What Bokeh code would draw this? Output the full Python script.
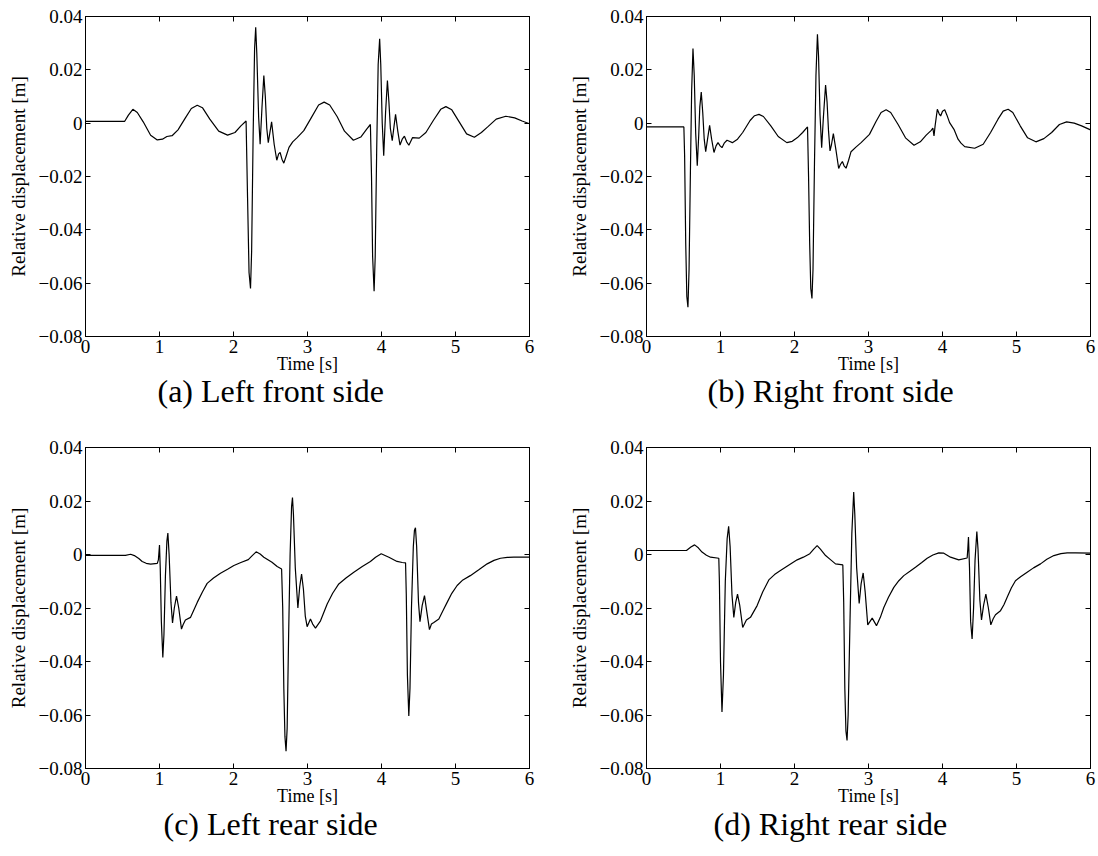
from bokeh.plotting import figure
from bokeh.layouts import gridplot
from bokeh.models import LinearAxis, FixedTicker, Range1d, Title, CustomJSTickFormatter
from bokeh.embed import file_html
from bokeh.resources import INLINE

FONT = "Liberation Serif"

x_ticks = [0, 1, 2, 3, 4, 5, 6]
x_tick_labels = ["0", "1", "2", "3", "4", "5", "6"]
y_ticks = [-0.08, -0.06, -0.04, -0.02, 0, 0.02, 0.04]
y_tick_labels = ["\u22120.08", "\u22120.06", "\u22120.04", "\u22120.02", "0", "0.02", "0.04"]

x_label = "Time [s]"
y_label = "Relative displacement [m]"
captions = ["(a) Left front side", "(b) Right front side",
            "(c) Left rear side", "(d) Right rear side"]

# (a) Left front side
t_a = [0.00, 0.53, 0.58, 0.64, 0.70, 0.78, 0.88, 0.97, 1.04, 1.10, 1.17, 1.25, 1.35, 1.43,
       1.51, 1.58, 1.68, 1.80, 1.92, 2.02, 2.10, 2.17, 2.19, 2.21, 2.23, 2.245, 2.265, 2.285,
       2.30, 2.315, 2.34, 2.36, 2.385, 2.41, 2.43, 2.45, 2.47, 2.495, 2.515, 2.55, 2.585, 2.61,
       2.63, 2.655, 2.68, 2.71, 2.75, 2.80, 2.86, 2.95, 3.05, 3.15, 3.225, 3.30, 3.40, 3.50,
       3.62, 3.72, 3.80, 3.85, 3.865, 3.88, 3.90, 3.915, 3.935, 3.955, 3.975, 3.99, 4.01, 4.03,
       4.055, 4.08, 4.10, 4.12, 4.145, 4.17, 4.19, 4.22, 4.25, 4.28, 4.31, 4.34, 4.37, 4.42,
       4.51, 4.60, 4.70, 4.80, 4.87, 4.95, 5.05, 5.15, 5.255, 5.35, 5.435, 5.55, 5.68, 5.80,
       5.90, 6.00]
y_a = [0.0007, 0.0007, 0.0030, 0.0052, 0.0040, 0.0005, -0.0045, -0.0063, -0.0060, -0.0050,
       -0.0047, -0.0025, 0.0020, 0.0055, 0.0067, 0.0058, 0.0015, -0.0030, -0.0045, -0.0035,
       -0.0010, 0.0008, -0.028, -0.056, -0.062, -0.048, -0.005, 0.028, 0.036, 0.026, 0.002,
       -0.0079, 0.006, 0.0179, 0.010, -0.002, -0.0073, -0.003, 0.0005, -0.008, -0.0139,
       -0.0115, -0.011, -0.0135, -0.015, -0.0125, -0.0091, -0.0070, -0.0054, -0.0028, 0.0020,
       0.0068, 0.0079, 0.0068, 0.0025, -0.0030, -0.0064, -0.0052, -0.0022, -0.0005, -0.020,
       -0.050, -0.063, -0.050, -0.010, 0.022, 0.0316, 0.022, 0.000, -0.0122, 0.004, 0.016,
       0.008, -0.002, -0.0066, -0.001, 0.0033, -0.003, -0.0082, -0.006, -0.0049, -0.007,
       -0.0083, -0.0054, -0.0056, -0.0035, 0.0010, 0.0052, 0.0062, 0.0050, 0.0005, -0.0040,
       -0.0053, -0.0035, -0.0014, 0.0015, 0.0026, 0.0020, 0.0008, -0.0002]

# (b) Right front side
t_b = [0.00, 0.505, 0.515, 0.53, 0.545, 0.56, 0.575, 0.595, 0.61, 0.628, 0.645, 0.665, 0.686,
       0.705, 0.72, 0.74, 0.76, 0.78, 0.80, 0.825, 0.853, 0.88, 0.912, 0.94, 0.966, 0.995,
       1.02, 1.05, 1.088, 1.12, 1.16, 1.23, 1.30, 1.40, 1.46, 1.52, 1.58, 1.68, 1.78, 1.896,
       1.97, 2.04, 2.11, 2.176, 2.19, 2.205, 2.22, 2.236, 2.25, 2.27, 2.29, 2.31, 2.325, 2.345,
       2.367, 2.39, 2.42, 2.44, 2.46, 2.48, 2.50, 2.525, 2.56, 2.597, 2.62, 2.647, 2.67, 2.697,
       2.73, 2.764, 2.83, 2.90, 3.013, 3.10, 3.17, 3.238, 3.30, 3.40, 3.50, 3.615, 3.70, 3.78,
       3.848, 3.87, 3.885, 3.90, 3.93, 3.955, 3.975, 4.00, 4.03, 4.06, 4.096, 4.155, 4.21,
       4.25, 4.30, 4.435, 4.55, 4.65, 4.75, 4.82, 4.887, 4.95, 5.05, 5.15, 5.262, 5.37, 5.475,
       5.58, 5.677, 5.78, 5.88, 6.00]
y_b = [-0.0014, -0.0014, -0.012, -0.045, -0.065, -0.069, -0.055, -0.015, 0.012, 0.028, 0.018,
       -0.004, -0.016, -0.005, 0.006, 0.0117, 0.004, -0.006, -0.0107, -0.006, -0.0008, -0.006,
       -0.011, -0.0085, -0.0073, -0.0085, -0.0092, -0.0075, -0.0064, -0.0068, -0.0073,
       -0.0060, -0.0035, 0.0010, 0.0028, 0.0033, 0.0025, -0.0010, -0.0050, -0.0073, -0.0068,
       -0.0054, -0.0035, -0.0014, -0.020, -0.045, -0.062, -0.0657, -0.055, -0.015, 0.018,
       0.0333, 0.025, 0.003, -0.0092, 0.002, 0.0143, 0.008, -0.003, -0.0104, -0.008, -0.0039,
       -0.010, -0.017, -0.0155, -0.0144, -0.016, -0.0169, -0.014, -0.0107, -0.0090, -0.0073,
       -0.0042, 0.0005, 0.0040, 0.0050, 0.0040, -0.0005, -0.0055, -0.0083, -0.0070, -0.0045,
       -0.0027, -0.0018, -0.0048, -0.0010, 0.0052, 0.0035, 0.0027, 0.0045, 0.0050, 0.0030,
       0.0002, -0.0023, -0.0060, -0.0075, -0.0088, -0.0094, -0.0079, -0.0035, 0.0015, 0.0045,
       0.0052, 0.0040, -0.0010, -0.0055, -0.0070, -0.0058, -0.0035, -0.0005, 0.0005, 0.0000,
       -0.0010, -0.0025]

# (c) Left rear side
t_c = [0.00, 0.54, 0.61, 0.66, 0.72, 0.766, 0.82, 0.88, 0.97, 0.985, 1.00, 1.01, 1.025, 1.045,
       1.06, 1.08, 1.10, 1.113, 1.13, 1.155, 1.176, 1.20, 1.23, 1.26, 1.297, 1.32, 1.35, 1.42,
       1.51, 1.58, 1.644, 1.73, 1.824, 1.92, 2.005, 2.10, 2.20, 2.25, 2.306, 2.36, 2.41, 2.52,
       2.59, 2.65, 2.665, 2.68, 2.695, 2.71, 2.725, 2.745, 2.765, 2.785, 2.797, 2.81, 2.835,
       2.87, 2.895, 2.92, 2.945, 2.97, 2.995, 3.04, 3.07, 3.108, 3.176, 3.266, 3.34, 3.423,
       3.52, 3.626, 3.74, 3.85, 3.92, 3.996, 4.10, 4.21, 4.28, 4.325, 4.335, 4.35, 4.369,
       4.385, 4.405, 4.43, 4.445, 4.459, 4.475, 4.50, 4.52, 4.55, 4.581, 4.61, 4.648, 4.675,
       4.707, 4.775, 4.83, 4.887, 4.95, 5.022, 5.10, 5.20, 5.31, 5.428, 5.52, 5.608, 5.70,
       5.788, 6.00]
y_c = [-0.0003, -0.0003, 0.0001, -0.0004, -0.0015, -0.0026, -0.0033, -0.0036, -0.0033, -0.002,
       0.0035, -0.005, -0.025, -0.0385, -0.030, -0.008, 0.005, 0.008, 0.000, -0.018, -0.0256,
       -0.020, -0.0156, -0.020, -0.0279, -0.0262, -0.0245, -0.0235, -0.0179, -0.0140, -0.0108,
       -0.0088, -0.0070, -0.0055, -0.0041, -0.0030, -0.0019, -0.0005, 0.0010, 0.0002, -0.0010,
       -0.0029, -0.0045, -0.0054, -0.020, -0.050, -0.068, -0.0735, -0.065, -0.030, 0.000, 0.018,
       0.0213, 0.015, -0.005, -0.020, -0.012, -0.0073, -0.013, -0.023, -0.027, -0.0241, -0.026,
       -0.0275, -0.0248, -0.0185, -0.0145, -0.011, -0.0088, -0.0066, -0.0045, -0.0026, -0.0010,
       0.0003, -0.0010, -0.0026, -0.0030, -0.0031, -0.015, -0.045, -0.0604, -0.050, -0.020,
       0.003, 0.009, 0.010, 0.003, -0.018, -0.0251, -0.019, -0.0154, -0.021, -0.0281, -0.026,
       -0.0254, -0.0241, -0.021, -0.0179, -0.0145, -0.0116, -0.0095, -0.0079, -0.0058, -0.0035,
       -0.0022, -0.0014, -0.0011, -0.0010, -0.0010]

# (d) Right rear side
t_d = [0.00, 0.54, 0.60, 0.65, 0.70, 0.75, 0.81, 0.865, 0.977, 0.985, 1.00, 1.02, 1.04, 1.065,
       1.09, 1.11, 1.13, 1.155, 1.18, 1.205, 1.23, 1.26, 1.30, 1.35, 1.405, 1.495, 1.57, 1.653,
       1.73, 1.81, 1.92, 2.036, 2.12, 2.207, 2.26, 2.306, 2.35, 2.42, 2.49, 2.554, 2.653, 2.665,
       2.68, 2.695, 2.71, 2.725, 2.75, 2.775, 2.80, 2.815, 2.84, 2.874, 2.90, 2.928, 2.955,
       2.99, 3.05, 3.108, 3.16, 3.207, 3.27, 3.342, 3.41, 3.477, 3.56, 3.635, 3.72, 3.793, 3.87,
       3.95, 4.018, 4.108, 4.22, 4.333, 4.342, 4.351, 4.365, 4.38, 4.40, 4.42, 4.44, 4.464,
       4.48, 4.505, 4.527, 4.555, 4.586, 4.62, 4.653, 4.685, 4.716, 4.784, 4.83, 4.874, 4.93,
       4.986, 5.06, 5.144, 5.23, 5.325, 5.41, 5.505, 5.60, 5.685, 5.80, 6.00]
y_d = [0.0015, 0.0015, 0.0028, 0.0036, 0.0025, 0.0009, -0.0003, -0.0010, -0.0014, -0.010,
       -0.040, -0.0589, -0.045, -0.010, 0.006, 0.0105, 0.003, -0.015, -0.0235, -0.018, -0.0148,
       -0.019, -0.0273, -0.0245, -0.0235, -0.0191, -0.0140, -0.0095, -0.0075, -0.0060, -0.0040,
       -0.0020, -0.0010, 0.0003, 0.0020, 0.0033, 0.0020, -0.0004, -0.0020, -0.0035, -0.0039,
       -0.018, -0.050, -0.066, -0.0695, -0.060, -0.025, 0.008, 0.0234, 0.015, -0.005, -0.0183,
       -0.0110, -0.0069, -0.014, -0.0263, -0.0238, -0.0266, -0.0235, -0.0198, -0.0160, -0.0123,
       -0.0098, -0.0079, -0.0063, -0.0048, -0.0030, -0.0014, -0.0002, 0.0006, 0.0005, -0.0010,
       -0.0020, -0.0013, 0.002, 0.0065, -0.005, -0.025, -0.0316, -0.020, -0.002, 0.0086, 0.002,
       -0.017, -0.0245, -0.019, -0.0148, -0.020, -0.0263, -0.024, -0.0225, -0.0210, -0.0188,
       -0.0160, -0.0125, -0.0098, -0.0082, -0.0066, -0.0050, -0.0035, -0.0018, -0.0004, 0.0003,
       0.0006, 0.0006, 0.0005]

series = [(t_a, y_a), (t_b, y_b), (t_c, y_c), (t_d, y_d)]

LOOKUP = """
let best = 0;
for (let i = 0; i < tv.length; i++) {
  if (Math.abs(tv[i] - tick) < Math.abs(tv[best] - tick)) { best = i; }
}
return tl[best];
"""


def style_axis(ax, ticks, labels, show_labels):
    ax.ticker = FixedTicker(ticks=ticks)
    ax.major_tick_in = 5
    ax.major_tick_out = 0
    ax.minor_tick_line_color = None
    ax.axis_line_color = "black"
    ax.axis_line_width = 1
    ax.major_tick_line_color = "black"
    ax.major_tick_line_width = 1
    if show_labels:
        ax.formatter = CustomJSTickFormatter(args=dict(tv=ticks, tl=labels), code=LOOKUP)
        ax.major_label_text_font = FONT
        ax.major_label_text_font_style = "normal"
        ax.major_label_text_font_size = "19px"
        ax.major_label_text_color = "black"
        ax.major_label_standoff = 3
    else:
        ax.formatter = CustomJSTickFormatter(code="return '';")
        ax.major_label_text_font_size = "0px"
        ax.major_label_standoff = 0


# caption left offsets (px from frame left) so that captions sit centred under each subfigure
caption_offsets = [72, 61, 78, 67]
caption_standoffs = [-12, -12, -10, -10]


def make(idx):
    row, col = divmod(idx, 2)
    t, y = series[idx]
    p = figure(width=549, height=428, output_backend="svg", toolbar_location=None,
               x_range=Range1d(0, 6), y_range=Range1d(-0.08, 0.04),
               min_border_left=85 if col == 0 else 97,
               min_border_right=20 if col == 0 else 8,
               min_border_top=16 if row == 0 else 19,
               min_border_bottom=92 if row == 0 else 88)
    p.grid.visible = False
    p.background_fill_color = "white"
    p.border_fill_color = "white"
    p.outline_line_color = "black"
    p.outline_line_width = 1
    p.line(t, y, line_color="black", line_width=1.2)

    style_axis(p.xaxis[0], x_ticks, x_tick_labels, True)
    style_axis(p.yaxis[0], y_ticks, y_tick_labels, True)
    p.xaxis[0].axis_label = x_label
    p.xaxis[0].axis_label_text_font = FONT
    p.xaxis[0].axis_label_text_font_style = "normal"
    p.xaxis[0].axis_label_text_font_size = "18px"
    p.xaxis[0].axis_label_text_color = "black"
    p.xaxis[0].axis_label_standoff = -2
    p.yaxis[0].axis_label = y_label
    p.yaxis[0].axis_label_text_font = FONT
    p.yaxis[0].axis_label_text_font_style = "normal"
    p.yaxis[0].axis_label_text_font_size = "19px"
    p.yaxis[0].axis_label_text_color = "black"
    p.yaxis[0].axis_label_standoff = 7

    top = LinearAxis()
    style_axis(top, x_ticks, x_tick_labels, False)
    p.add_layout(top, "above")
    right = LinearAxis()
    style_axis(right, y_ticks, y_tick_labels, False)
    p.add_layout(right, "right")

    cap = Title(text=captions[idx], align="left", offset=caption_offsets[idx],
                text_font=FONT, text_font_size="32px", text_font_style="normal",
                text_color="black", standoff=caption_standoffs[idx])
    p.add_layout(cap, "below")
    return p


plots = [make(i) for i in range(4)]
grid = gridplot([[plots[0], plots[1]], [plots[2], plots[3]]], toolbar_location=None)

open("out.html", "w").write(file_html(grid, INLINE))
